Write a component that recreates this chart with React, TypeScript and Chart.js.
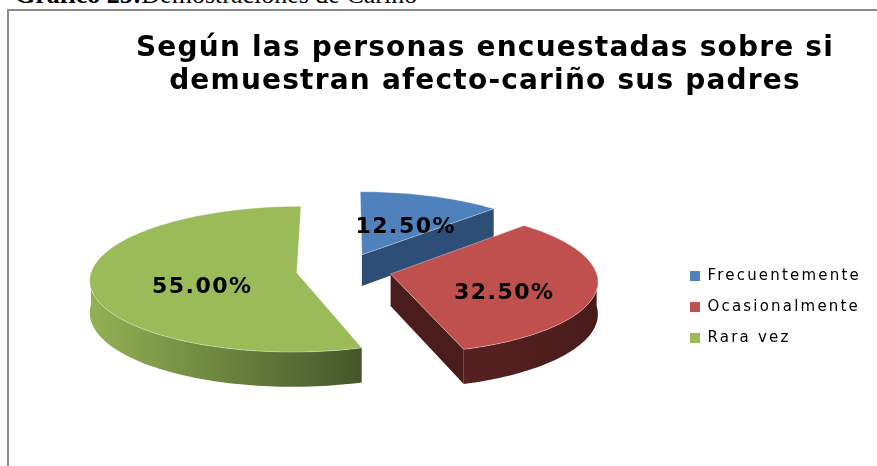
import React, { useEffect, useRef } from 'react';
import { Chart, registerables } from 'chart.js';

Chart.register(...registerables);

// ---- data ----
const categories = ['Frecuentemente', 'Ocasionalmente', 'Rara vez'];
const percentages = [12.5, 32.5, 55.0];
const titleLines = ['Según las personas encuestadas sobre si', 'demuestran afecto-cariño sus padres'];
const captionBold = 'Gráfico 25:';
const captionRest = 'Demostraciones de Cariño';

// ---- styles ----
const topColors = ['#4f81bd', '#c0504d', '#9bbb59'];
const wallColors = ['#2d4e76', '#4a1c1b', '#4f6228'];
const sideGradients = [
  ['#3a5f8c', '#2a4a70'],
  ['#562221', '#481b1a'],
  ['#93b154', '#44562a'],
];

const CANVAS_W = 956;
const CANVAS_H = 466;
const LEGEND_W = 282;

const withSpacing = (obj: any, spacing: string) => {
  if (!obj) return;
  const origDraw = obj.draw;
  obj.draw = function (...args: any[]) {
    const c = this.ctx as any;
    const prev = c.letterSpacing;
    c.letterSpacing = spacing;
    origDraw.apply(this, args);
    c.letterSpacing = prev || '0px';
  };
};

const boxTweaksPlugin = {
  id: 'boxTweaks',
  beforeInit(chart: any) {
    const legend = chart.legend;
    if (legend) {
      const origFit = legend.fit;
      legend.fit = function () {
        origFit.call(this);
        this.width = LEGEND_W;
      };
      withSpacing(legend, '2.2px');
    }
    withSpacing(chart.titleBlock, '1.2px');
  },
};

const pie3dPlugin = {
  id: 'pie3d',
  beforeDatasetsDraw(chart: any) {
    const meta = chart.getDatasetMeta(0);
    const arcs = meta.data as any[];
    if (!arcs || !arcs.length) return false;
    const ctx: CanvasRenderingContext2D = chart.ctx;
    const first = arcs[0];
    const outer = first.outerRadius;
    const R = outer * 1.29;
    const E = outer * 0.30;
    const D = outer * 0.2;
    const K = 0.353;
    const P = 0.09;
    const cx = first.x;
    const cy = first.y - outer * 0.233;
    const proj = (u: number, w: number, h: number) => {
      const s = 1 + (P * w) / R;
      return [cx + u * s, cy + (w * K + h) * s];
    };
    const data = chart.data.datasets[0].data as number[];
    const total = data.reduce((a, b) => a + b, 0);

    const slices = arcs.map((a, i) => {
      const mid = (a.startAngle + a.endAngle) / 2;
      return { i, a0: a.startAngle, a1: a.endAngle, mid, ou: E * Math.cos(mid), ow: E * Math.sin(mid) };
    });
    const order = [...slices].sort((p, q) => p.ow - q.ow);

    const tracePoly = (pts: number[][]) => {
      ctx.beginPath();
      pts.forEach(([x, y], k) => (k ? ctx.lineTo(x, y) : ctx.moveTo(x, y)));
      ctx.closePath();
    };

    ctx.save();
    for (const s of order) {
      const pt = (a: number, r: number, h: number) =>
        proj(s.ou + r * Math.cos(a), s.ow + r * Math.sin(a), h);
      const arcPts = (from: number, to: number, h: number) => {
        const n = Math.max(2, Math.ceil((Math.abs(to - from) / (Math.PI * 2)) * 240));
        const out: number[][] = [];
        for (let k = 0; k <= n; k++) out.push(pt(from + ((to - from) * k) / n, R, h));
        return out;
      };
      // outer curved wall (front facing part)
      const v0 = Math.max(s.a0, 0);
      const v1 = Math.min(s.a1, Math.PI);
      if (v1 > v0) {
        const topArc = arcPts(v0, v1, 0);
        const botArc = arcPts(v1, v0, D);
        const all = [...topArc, ...botArc];
        const xs = all.map((p) => p[0]);
        const g = ctx.createLinearGradient(Math.min(...xs), 0, Math.max(...xs), 0);
        g.addColorStop(0, sideGradients[s.i][0]);
        g.addColorStop(1, sideGradients[s.i][1]);
        tracePoly(all);
        ctx.fillStyle = g;
        ctx.fill();
      }
      // radial walls
      const apexT = pt(0, 0, 0);
      const apexB = pt(0, 0, D);
      const wall = (a: number) => {
        const eT = pt(a, R, 0);
        const eB = pt(a, R, D);
        tracePoly([apexT, eT, eB, apexB]);
        ctx.fillStyle = wallColors[s.i];
        ctx.fill();
      };
      if (Math.cos(s.a1) > 0.02) wall(s.a1);
      if (Math.cos(s.a0) < -0.02) wall(s.a0);
      // top face
      const top = [apexT, ...arcPts(s.a0, s.a1, 0)];
      tracePoly(top);
      ctx.fillStyle = topColors[s.i];
      ctx.fill();
      ctx.strokeStyle = 'rgba(255,255,255,0.35)';
      ctx.lineWidth = 1;
      ctx.stroke();
    }

    // labels
    (ctx as any).letterSpacing = '1.5px';
    ctx.fillStyle = '#000';
    ctx.font = 'bold 22px "DejaVu Sans"';
    ctx.textAlign = 'center';
    ctx.textBaseline = 'middle';
    for (const s of slices) {
      const half = (s.a1 - s.a0) / 2;
      const centroid = (2 * Math.sin(half)) / (3 * half);
      const f = 0.5 * centroid + 0.5 * 0.55;
      const [x, y] = proj(s.ou + f * R * Math.cos(s.mid), s.ow + f * R * Math.sin(s.mid), 0);
      const pct = ((data[s.i] / total) * 100).toFixed(2) + '%';
      ctx.fillText(pct, x + 1, y + D * 0.3);
    }
    (ctx as any).letterSpacing = '0px';
    ctx.restore();
    return false;
  },
};

export default function App() {
  const canvasRef = useRef<HTMLCanvasElement | null>(null);

  useEffect(() => {
    const canvas = canvasRef.current;
    if (!canvas) return;
    const chart = new Chart(canvas, {
      type: 'pie',
      data: {
        labels: categories,
        datasets: [
          {
            data: percentages,
            backgroundColor: topColors,
            borderWidth: 0,
            borderColor: 'transparent',
          },
        ],
      },
      options: {
        responsive: false,
        animation: false,
        events: [],
        layout: { padding: { left: 14 } },
        plugins: {
          title: {
            display: true,
            text: titleLines,
            color: '#000',
            font: { family: 'DejaVu Sans', size: 28, weight: 'bold', lineHeight: 1.18 },
            padding: { top: 32, bottom: 50 },
          },
          legend: {
            position: 'right',
            align: 'center',
            fullSize: false,
            labels: {
              boxWidth: 10,
              boxHeight: 10,
              padding: 16,
              color: '#000',
              font: { family: 'DejaVu Sans', size: 15 },
            },
          },
          tooltip: { enabled: false },
        },
      } as any,
      plugins: [boxTweaksPlugin, pie3dPlugin] as any,
    });
    return () => chart.destroy();
  }, []);

  return (
    <div
      style={{
        position: 'fixed',
        left: 0,
        top: 0,
        width: 877,
        height: 466,
        overflow: 'hidden',
        background: '#fff',
      }}
    >
      <div
        style={{
          position: 'absolute',
          left: 15,
          top: -18,
          fontFamily: '"Liberation Serif", serif',
          fontSize: 26,
          lineHeight: '26px',
          whiteSpace: 'nowrap',
          color: '#000',
        }}
      >
        <b>{captionBold}</b>
        {captionRest}
      </div>
      <div
        style={{
          position: 'absolute',
          left: 7,
          top: 9,
          width: 960,
          height: 500,
          borderTop: '2px solid #8c8c8c',
          borderLeft: '2px solid #8c8c8c',
        }}
      />
      <canvas
        ref={canvasRef}
        width={CANVAS_W}
        height={CANVAS_H}
        style={{ position: 'absolute', left: 0, top: 0, width: CANVAS_W, height: CANVAS_H }}
      />
    </div>
  );
}
